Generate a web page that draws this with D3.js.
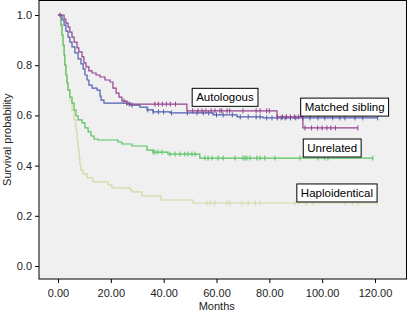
<!DOCTYPE html>
<html>
<head>
<meta charset="utf-8">
<script src="https://cdn.jsdelivr.net/npm/d3@7"></script>
<style>
  body { margin: 0; background: #fff; }
  text { font-family: "Liberation Sans", Arial, sans-serif; }
</style>
</head>
<body>
<svg id="chart" width="408" height="314"></svg>
<script>
// step points [months, survival after step]
var autologous = [[0,1],[0.8,1],[2.3,0.984],[3.0,0.968],[3.8,0.952],[4.5,0.932],[5.3,0.912],[6.1,0.892],[7.2,0.869],[7.9,0.853],[9.1,0.833],[9.8,0.809],[10.6,0.793],[11.7,0.777],[12.9,0.769],[14.4,0.761],[15.9,0.753],[17.8,0.741],[19.7,0.733],[20.8,0.709],[22.0,0.689],[23.1,0.673],[24.2,0.657],[26.1,0.645],[48.8,0.618],[82.9,0.594],[92.7,0.55]]
var autologousEnd = 113.5
var autologousCens = [25,27,36.7,38,39.5,41,42.5,44.5,51,53,54.5,56,58,59.4,61.3,62,64,65,70,75,76.5,79,80,83,85,86.5,88,89.5,91,93.5,96,98.3,100,101.8,103.3,105,113.5]

var sibling = [[0,1],[1.5,0.98],[2.3,0.96],[3.0,0.936],[3.8,0.912],[4.5,0.892],[5.3,0.873],[6.4,0.849],[7.6,0.825],[8.7,0.805],[9.5,0.785],[10.2,0.761],[11.0,0.741],[11.7,0.721],[12.9,0.709],[14.8,0.701],[15.9,0.677],[16.3,0.661],[17.4,0.649],[27.3,0.641],[31.0,0.633],[33.7,0.622],[36.0,0.614],[42.4,0.610],[58.7,0.602],[67.8,0.594],[77.6,0.590]]
var siblingEnd = 121
var siblingCens = [26,28,34,36,38,40,43,49,52.6,55,57,60,62.5,66,69,72,75,76.5,79,81,83,84.5,86,88,90,92.7,95.4,98.4,101,104,106.7,108.6,112.4,115.4,121]

var unrelated = [[0,1],[1.1,0.96],[1.5,0.92],[1.9,0.88],[2.3,0.841],[2.6,0.80],[3.0,0.761],[3.4,0.729],[3.8,0.701],[4.5,0.673],[5.3,0.649],[6.1,0.621],[6.8,0.598],[7.6,0.582],[9.1,0.57],[10.2,0.55],[11.4,0.534],[12.5,0.518],[13.6,0.506],[15.1,0.502],[22.7,0.494],[24.2,0.486],[28.0,0.478],[33.7,0.462],[36.0,0.454],[41.6,0.446],[53.7,0.430]]
var unrelatedEnd = 119.2
var unrelatedCens = [36,36.7,37.8,39.4,42.4,44.3,46.2,48,49.2,50.7,51.9,55.6,56.8,58.3,60.6,62.5,67,70,70.8,71.5,72.7,75.3,76.5,78.3,82.1,91.6,98.4,101,102.2,119.2]

var haplo = [[0,1],[1.1,0.96],[1.5,0.92],[1.9,0.88],[2.3,0.841],[2.6,0.80],[3.0,0.761],[3.4,0.729],[3.8,0.701],[4.5,0.661],[5.3,0.621],[6.1,0.582],[6.8,0.542],[7.2,0.502],[7.6,0.462],[8.0,0.43],[8.3,0.402],[8.7,0.382],[9.5,0.367],[11.0,0.351],[13.2,0.335],[18.9,0.323],[20.4,0.311],[27.3,0.303],[28.0,0.295],[31.8,0.279],[39.0,0.263],[51.1,0.251]]
var haploEnd = 120.7
var haploCens = [56.4,57.6,59.4,64,65,69.6,72,74.7,76.5,89.7,94,96.5,108.6,111.6,113.5,120.7]

var xTicks = [0,20,40,60,80,100,120]
var yTicks = [0,0.2,0.4,0.6,0.8,1.0]

// label boxes: [text, months, survival] (centre)
var labels = [["Autologous",63.2,0.672],["Matched sibling",108.5,0.633],["Unrelated",103.8,0.47],["Haploidentical",105.6,0.291]]

var svg = d3.select("#chart")
var x = d3.scaleLinear().domain([0,120]).range([58,375])
var y = d3.scaleLinear().domain([0,1]).range([266,15])
var frame = { left: 39, top: 0.5, right: 406.5, bottom: 279 }

svg.append("rect").attr("x", frame.left).attr("y", frame.top)
  .attr("width", frame.right - frame.left).attr("height", frame.bottom - frame.top)
  .attr("fill", "#f0f0f0").attr("stroke", "#000").attr("stroke-width", 1)

// axes
var yAxis = svg.append("g").attr("transform", "translate(" + frame.left + ",0)")
  .call(d3.axisLeft(y).tickValues(yTicks).tickFormat(d3.format(".1f")).tickSize(4).tickPadding(3))
var xAxis = svg.append("g").attr("transform", "translate(0," + frame.bottom + ")")
  .call(d3.axisBottom(x).tickValues(xTicks).tickFormat(d3.format(".2f")).tickSize(4).tickPadding(6))
svg.selectAll(".domain").remove()
svg.selectAll(".tick line").attr("stroke", "#000")
svg.selectAll(".tick text").attr("font-size", 11).attr("fill", "#222")
  .attr("font-family", "Liberation Sans, Arial, sans-serif")

svg.append("text").attr("x", (frame.left + frame.right) / 2 - 6).attr("y", 310)
  .attr("text-anchor", "middle").attr("font-size", 11).attr("fill", "#222").text("Months")
svg.append("text").attr("transform", "translate(11," + (frame.top + frame.bottom) / 2 + ") rotate(-90)")
  .attr("text-anchor", "middle").attr("font-size", 11).attr("fill", "#222").text("Survival probability")

var series = [
  { steps: haplo, end: haploEnd, cens: haploCens, color: "#d6d6a4" },
  { steps: unrelated, end: unrelatedEnd, cens: unrelatedCens, color: "#55c25e" },
  { steps: sibling, end: siblingEnd, cens: siblingCens, color: "#4f5fb0" },
  { steps: autologous, end: autologousEnd, cens: autologousCens, color: "#93428f" }
]

var line = d3.line().curve(d3.curveStepAfter).x(d => x(d[0])).y(d => y(d[1]))

function levelAt(steps, t) {
  var s = steps[0][1]
  steps.forEach(p => { if (p[0] <= t) s = p[1] })
  return s
}

series.forEach(function(sr) {
  var pts = sr.steps.concat([[sr.end, sr.steps[sr.steps.length - 1][1]]])
  svg.append("path").attr("d", line(pts)).attr("fill", "none")
    .attr("stroke", sr.color).attr("stroke-width", 1.2)
  svg.selectAll(null).data(sr.cens).join("line")
    .attr("x1", d => x(d)).attr("x2", d => x(d))
    .attr("y1", d => y(levelAt(sr.steps, d)) - 2.5).attr("y2", d => y(levelAt(sr.steps, d)) + 2.5)
    .attr("stroke", sr.color).attr("stroke-width", 1)
})

// start cross marks
svg.append("line").attr("x1", x(0) + 2).attr("x2", x(0) + 2).attr("y1", y(1) - 2.5).attr("y2", y(1) + 2.5)
  .attr("stroke", "#93428f").attr("stroke-width", 1)

labels.forEach(function(l) {
  var g = svg.append("g")
  var t = g.append("text").attr("x", x(l[1])).attr("y", y(l[2]) + 4)
    .attr("text-anchor", "middle").attr("font-size", 11.5).attr("fill", "#000").text(l[0])
  var bb = t.node().getBBox()
  g.insert("rect", "text").attr("x", bb.x - 4).attr("y", y(l[2]) - 9)
    .attr("width", bb.width + 8).attr("height", 18)
    .attr("fill", "#fff").attr("stroke", "#000").attr("stroke-width", 1)
})
</script>
</body>
</html>
